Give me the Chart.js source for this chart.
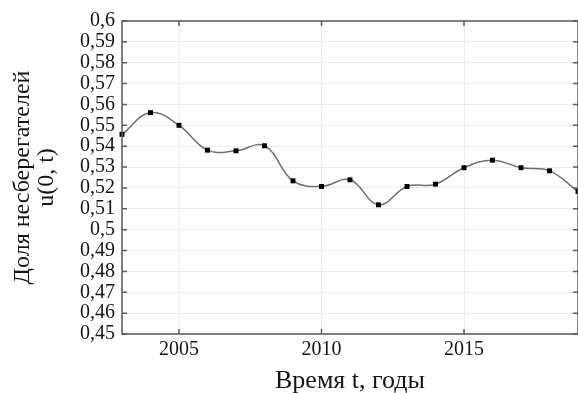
<!DOCTYPE html>
<html>
<head>
<meta charset="utf-8">
<script src="https://cdn.jsdelivr.net/npm/chart.js@4.4.0/dist/chart.umd.min.js"></script>
<style>
  html, body { margin: 0; padding: 0; background: #fff; }
  #wrap { width: 578px; height: 393px; }
</style>
</head>
<body>
<div id="wrap"><canvas id="myChart" width="578" height="393"></canvas></div>
<script>
// данные
var years = [2003, 2004, 2005, 2006, 2007, 2008, 2009, 2010, 2011, 2012, 2013, 2014, 2015, 2016, 2017, 2018, 2019];
var shares = [0.5457, 0.5561, 0.5500, 0.5381, 0.5378, 0.5402, 0.5234, 0.5207, 0.5239, 0.5119, 0.5207, 0.5218, 0.5297, 0.5333, 0.5297, 0.5282, 0.5183];
var xTicks = [2005, 2010, 2015];
var yTicks = [0.45, 0.46, 0.47, 0.48, 0.49, 0.5, 0.51, 0.52, 0.53, 0.54, 0.55, 0.56, 0.57, 0.58, 0.59, 0.6];

var serif = "'Liberation Serif', 'DejaVu Serif', serif";

// рамка и внутренние засечки, как в исходной картинке
var framePlugin = {
  id: 'frame',
  afterDatasetsDraw: function(chart) {
    var ctx = chart.ctx, a = chart.chartArea;
    var xs = chart.scales.x, ys = chart.scales.y;
    ctx.save();
    ctx.strokeStyle = '#5a5a5a';
    ctx.lineWidth = 1.5;
    ctx.strokeRect(a.left, a.top, a.right - a.left, a.bottom - a.top);
    ctx.beginPath();
    xs.ticks.forEach(function(t) {
      var px = xs.getPixelForValue(t.value);
      ctx.moveTo(px, a.bottom); ctx.lineTo(px, a.bottom - 5);
      ctx.moveTo(px, a.top); ctx.lineTo(px, a.top + 5);
    });
    ys.ticks.forEach(function(t) {
      var py = ys.getPixelForValue(t.value);
      ctx.moveTo(a.left, py); ctx.lineTo(a.left + 5, py);
      ctx.moveTo(a.right, py); ctx.lineTo(a.right - 5, py);
    });
    ctx.stroke();
    ctx.restore();
  }
};

var ctx = document.getElementById('myChart');
var myChart = new Chart(ctx, {
  type: 'line',
  data: {
    datasets: [{
      data: years.map(function(y, i) { return {x: y, y: shares[i]}; }),
      borderColor: '#6f6f6f',
      borderWidth: 1.5,
      tension: 0.4,
      pointStyle: 'rect',
      pointRadius: 3.5,
      pointBackgroundColor: '#000',
      pointBorderColor: '#000',
      pointBorderWidth: 0,
      clip: false
    }]
  },
  options: {
    responsive: false,
    animation: false,
    layout: { autoPadding: false, padding: { left: 11, right: 0, top: 21, bottom: -1 } },
    plugins: { legend: { display: false }, tooltip: { enabled: false } },
    scales: {
      x: {
        type: 'linear',
        min: 2003,
        max: 2019,
        afterBuildTicks: function(axis) { axis.ticks = xTicks.map(function(v) { return {value: v}; }); },
        grid: { color: '#ececec', lineWidth: 1, drawTicks: false },
        border: { display: false },
        ticks: { color: '#151515', font: { family: serif, size: 20 }, padding: 4, maxRotation: 0,
          callback: function(v) { return String(v); } },
        title: { display: true, text: 'Время t, годы', color: '#151515',
          font: { family: serif, size: 26, lineHeight: 1.0 }, padding: { top: 2, bottom: 0 } }
      },
      y: {
        min: 0.45,
        max: 0.6,
        afterBuildTicks: function(axis) { axis.ticks = yTicks.map(function(v) { return {value: v}; }); },
        grid: { color: '#ececec', lineWidth: 1, drawTicks: false },
        border: { display: false },
        ticks: { color: '#151515', font: { family: serif, size: 20 }, padding: 7, autoSkip: false,
          callback: function(v) { return String(+v.toFixed(2)).replace('.', ','); } },
        title: { display: true, text: ['Доля несберегателей', 'u(0, t)'], color: '#151515',
          font: { family: serif, size: 24, lineHeight: 1.0 }, padding: { top: 0, bottom: 14 } }
      }
    }
  },
  plugins: [framePlugin]
});
</script>
</body>
</html>
